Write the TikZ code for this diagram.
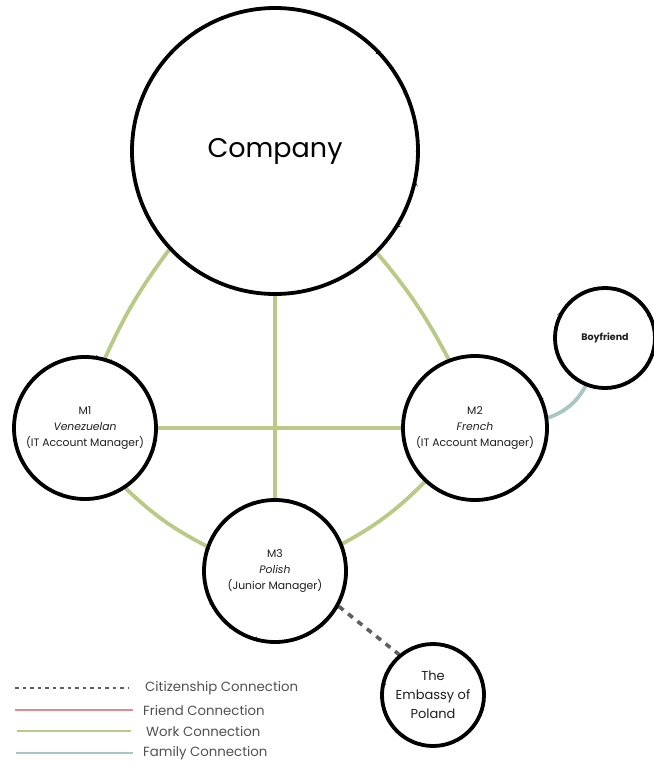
\documentclass[tikz,border=0pt]{standalone}
\usepackage{fontspec}
\setmainfont{Poppins}
\usetikzlibrary{decorations.pathmorphing,backgrounds}
\definecolor{workgreen}{RGB}{184,202,134}
\definecolor{familyblue}{RGB}{168,198,194}
\definecolor{friendred}{RGB}{222,140,140}
\definecolor{citgray}{RGB}{95,95,95}
\definecolor{txtgray}{RGB}{30,30,30}
\definecolor{legtxt}{RGB}{80,80,80}
\begin{document}
\begin{tikzpicture}[x=1pt,y=-1pt,
  person/.style={circle, draw=black, line width=3.8pt, fill=white, inner sep=0pt,
    align=center, text=txtgray, font=\fontsize{10.8}{16}\selectfont,
    postaction={draw=black, line width=1.2pt, decorate,
      decoration={random steps, segment length=1.5pt, amplitude=1.1pt}}},
  work/.style={draw=workgreen, line width=3.8pt},
  family/.style={draw=familyblue, line width=3.8pt},
  citizen/.style={draw=citgray, line width=3.6pt, dash pattern=on 6pt off 6pt},
  legline/.style={line width=2.2pt},
  legtext/.style={anchor=west, inner sep=0pt, text=legtxt, font=\fontsize{13.3}{15}\selectfont}
]
\useasboundingbox (0,0) rectangle (654,764);

\node[person, minimum size=286pt, text=black, font=\fontsize{27}{32}\selectfont] (company) at (275,151) {\raisebox{-4pt}{Company}};
\node[person, minimum size=142pt] (m1) at (85,428) {M1\\\textit{Venezuelan}\\(IT Account Manager)};
\node[person, minimum size=144pt] (m2) at (475,428) {M2\\\textit{French}\\(IT Account Manager)};
\node[person, minimum size=142pt] (m3) at (275,571) {M3\\\textit{Polish}\\(Junior Manager)};
\node[person, minimum size=100pt, font=\fontsize{9.5}{12}\selectfont\bfseries] (bf) at (605,338) {Boyfriend};
\node[person, minimum size=102pt, font=\fontsize{13}{19}\selectfont] (emb) at (433,695) {The\\Embassy of\\Poland};

\begin{scope}[on background layer]
\draw[work] (company.223) to[bend right=6] (m1.74);
\draw[work] (company.315) to[bend left=6] (m2.111);
\draw[work] (company.south) -- (m3.north);
\draw[work] (m1.east) -- (m2.west);
\draw[work] (m1.304) to[bend right=8] (m3.160);
\draw[work] (m3.22) to[bend right=8] (m2.227);
\draw[family] (m2.8) to[bend right=20] (bf.248);
\draw[citizen] (m3.331) -- (emb.130);
\end{scope}

\coordinate (l1a) at (15,688); \coordinate (l1b) at (128,688);
\coordinate (l2a) at (15,710); \coordinate (l2b) at (133,710);
\coordinate (l3a) at (17,731); \coordinate (l3b) at (131,731);
\coordinate (l4a) at (16,753); \coordinate (l4b) at (133,753);
\draw[citgray, line width=1.6pt, dash pattern=on 3.5pt off 4pt] (l1a) -- (l1b);
\draw[legline, friendred] (l2a) -- (l2b);
\draw[legline, workgreen] (l3a) -- (l3b);
\draw[legline, familyblue] (l4a) -- (l4b);
\node[legtext] (t1) at (145,688) {Citizenship Connection};
\node[legtext] (t2) at (143,710) {Friend Connection};
\node[legtext] (t3) at (146,731) {Work Connection};
\node[legtext] (t4) at (143,753) {Family Connection};
\end{tikzpicture}
\end{document}
